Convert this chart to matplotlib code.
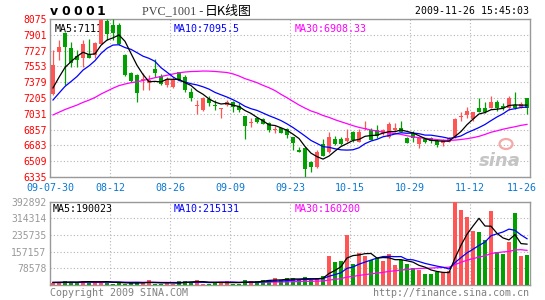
import numpy as np
import pandas as pd
import matplotlib
matplotlib.use("Agg")
import matplotlib.pyplot as plt
from matplotlib.patches import Ellipse

# PVC_1001 daily K, 80 sessions, 2009-07-30 .. 2009-11-26
opens = [7252, 7708, 7918, 7752, 7671, 7649, 7686, 7679, 7796, 8056,
         8009, 8009, 7679, 7477, 7458, 7400, 7367, 7521, 7447, 7348,
         7330, 7488, 7440, 7274, 7117, 7073, 7194, 7128, 7087, 7128,
         7158, 7120, 7010, 6933, 6988, 6974, 6926, 6849, 6871, 6864,
         6779, 6632, 6651, 6503, 6449, 6695, 6607, 6754, 6754, 6732,
         6834, 6724, 6860, 6853, 6853, 6816, 6779, 6849, 6871, 6768,
         6816, 6695, 6754, 6768, 6732, 6706, 6724, 6776, 6996, 7018,
         6974, 7092, 7100, 7098, 7158, 7117, 7098, 7128, 7106, 7208]
highs = [7734, 7844, 7935, 7825, 7734, 7844, 7851, 7825, 8075, 8075,
         8075, 8034, 7690, 7495, 7470, 7480, 7458, 7631, 7469, 7440,
         7436, 7495, 7458, 7312, 7183, 7219, 7230, 7183, 7100, 7183,
         7172, 7147, 7010, 6981, 7000, 6988, 6944, 6900, 6878, 6871,
         6779, 6669, 6660, 6510, 6632, 6754, 6834, 6790, 6779, 6864,
         6840, 6864, 6952, 6871, 6908, 6860, 6937, 6926, 6952, 6779,
         6841, 6768, 6768, 6779, 6754, 6754, 6779, 6980, 7054, 7109,
         7054, 7202, 7158, 7230, 7183, 7150, 7230, 7274, 7158, 7210]
lows = [7240, 7623, 7348, 7550, 7550, 7550, 7642, 7649, 7796, 7844,
        7844, 7789, 7450, 7385, 7158, 7290, 7293, 7440, 7348, 7323,
        7315, 7400, 7274, 7172, 7026, 7062, 7120, 7073, 6981, 7120,
        7054, 7054, 6754, 6889, 6926, 6919, 6834, 6816, 6816, 6768,
        6632, 6607, 6335, 6393, 6431, 6570, 6596, 6687, 6687, 6724,
        6724, 6717, 6849, 6743, 6768, 6798, 6768, 6834, 6827, 6713,
        6717, 6658, 6706, 6706, 6669, 6680, 6717, 6760, 6952, 6988,
        6952, 7050, 7040, 7092, 7062, 7073, 7073, 7084, 7092, 7026]
closes = [7569, 7767, 7770, 7587, 7624, 7796, 7642, 7807, 8060, 7910,
          7918, 7800, 7458, 7392, 7257, 7412, 7403, 7477, 7359, 7411,
          7403, 7403, 7293, 7202, 7125, 7208, 7147, 7117, 7098, 7158,
          7109, 7073, 6897, 6941, 6937, 6919, 6853, 6860, 6816, 6798,
          6706, 6613, 6423, 6448, 6607, 6570, 6779, 6699, 6699, 6768,
          6743, 6834, 6871, 6743, 6790, 6853, 6915, 6871, 6834, 6713,
          6768, 6761, 6717, 6735, 6688, 6743, 6768, 6974, 7007, 7062,
          7048, 7054, 7054, 7161, 7092, 7095, 7208, 7092, 7142, 7098]
vols = [9000, 14000, 18800, 14000, 9400, 18800, 18800, 14000, 14000, 14000,
        4700, 14000, 4700, 9400, 14000, 9400, 23500, 4700, 4700, 14000,
        4700, 18800, 18800, 14000, 23500, 4700, 4700, 14000, 14000, 18800,
        4700, 4700, 23500, 18800, 18800, 23500, 23500, 31500, 23500, 31500,
        31500, 23500, 37600, 23500, 31500, 42300, 136400, 108200, 112900, 235300,
        98800, 152000, 138000, 117600, 125400, 112900, 145900, 94100, 117600, 98800,
        81600, 70600, 51800, 51800, 62700, 59600, 65900, 392892, 352900, 321400,
        254100, 247800, 211700, 348200, 153700, 145900, 200700, 337200, 136400, 141100]

# 29 sessions before the window, only needed so the moving averages start right
pre_close = [6860, 6880, 6850, 6890, 6910, 6900, 6930, 6920, 6950, 6940,
             6960, 6930, 6950, 6970, 6960, 6980, 6990, 6970, 7000, 6980,
             7010, 7030, 7050, 7070, 7090, 7180, 7230, 7270, 7330]
pre_vol = [12000, 9400, 14000, 9400, 4700, 14000, 18800, 9400, 14000, 9400,
           4700, 14000, 9400, 18800, 9400, 14000, 4700, 9400, 14000, 9400,
           18800, 9400, 14000, 4700, 14000, 9400, 18800, 9400, 14000]

# values printed in the legends of the original
price_ma_text = ['MA5:7111', 'MA10:7095.5', 'MA30:6908.33']
vol_ma_text = ['MA5:190023', 'MA10:215131', 'MA30:160200']

price_ticks = [6335, 6509, 6683, 6857, 7031, 7205, 7379, 7553, 7727, 7901, 8075]
vol_ticks = [78578, 157157, 235735, 314314, 392892]
date_labels = ['09-07-30', '08-12', '08-26', '09-09', '09-23',
               '10-15', '10-29', '11-12', '11-26']

RED = '#ff5555'
GREEN = '#00a000'
GRID = '#b4b4b4'
W, H = 545, 300


def fx(x):
    return x / W


def fy(y):
    return 1 - y / H


n = len(closes)
xs = np.arange(n)
up = np.array(closes) >= np.array(opens)
cols = [RED if u else GREEN for u in up]

cs = pd.Series(pre_close + closes)
vs = pd.Series(pre_vol + vols)
ma = {k: cs.rolling(k).mean().iloc[len(pre_close):].values for k in (5, 10, 30)}
vma = {k: vs.rolling(k).mean().iloc[len(pre_vol):].values for k in (5, 10, 30)}
ma_cols = {5: 'black', 10: '#0000ff', 30: '#ff00ff'}

fig = plt.figure(figsize=(5.45, 3.0), dpi=100)
ax = fig.add_axes([fx(50), fy(177), fx(480), 158 / H])
axv = fig.add_axes([fx(50), fy(285), fx(480), 83.5 / H])

mono = 'DejaVu Sans Mono'
grid_x = [9.5 + 10 * k for k in range(7)]

for a in (ax, axv):
    a.set_xlim(-0.5, 79.5)
    a.set_xticks(grid_x)
    a.set_xticklabels([])
    a.grid(True, color=GRID, linestyle=(0, (1, 2)), linewidth=0.8)
    a.set_axisbelow(True)
    a.tick_params(length=0, pad=2.5, labelsize=7)
    for s in a.spines.values():
        s.set_color('#999999')
        s.set_linewidth(1)

# candles
ax.vlines(xs, lows, highs, colors=cols, linewidth=0.9, zorder=3)
body = np.maximum(np.abs(np.array(closes) - np.array(opens)), 9)
ax.bar(xs, body, bottom=np.minimum(opens, closes), width=0.78, color=cols,
       linewidth=0, zorder=3)
for k in (30, 10, 5):
    ax.plot(xs, ma[k], color=ma_cols[k], linewidth=0.9, zorder=4)
ax.set_ylim(6335, 8075)
ax.set_yticks(price_ticks)
ax.set_yticklabels([str(t) for t in price_ticks], color='#ff0000', family=mono)

for i, lab in enumerate(date_labels):
    x = -0.5 + 10 * i
    if i == len(date_labels) - 1:
        x = 78.1
    ax.text(x, -0.07, lab, transform=ax.get_xaxis_transform(), ha='center',
            va='center', fontsize=7.2, family=mono, color='#0a78d2')

# volume
axv.bar(xs, vols, width=0.78, color=cols, linewidth=0, zorder=3)
for k in (30, 10, 5):
    axv.plot(xs, vma[k], color=ma_cols[k], linewidth=0.9, zorder=4)
axv.set_ylim(0, 392892)
axv.set_yticks(vol_ticks)
axv.set_yticklabels([str(t) for t in vol_ticks], color='#999999', family=mono)

# MA legends, left edges at x = 55 / 174 / 295 px
for txt, xp, k in zip(price_ma_text, (55, 174, 295), (5, 10, 30)):
    ax.text((xp - 50) / 480, 0.968, txt, transform=ax.transAxes, ha='left',
            va='top', fontsize=7.2, family=mono, color=ma_cols[k], zorder=1)
for txt, xp, k in zip(vol_ma_text, (53, 174, 295), (5, 10, 30)):
    axv.text((xp - 50) / 480, 0.975, txt, transform=axv.transAxes, ha='left',
             va='top', fontsize=7.2, family=mono, color=ma_cols[k], zorder=1)

# header
for k, ch in enumerate('v0001'):
    fig.text(fx(50 + 11.7 * k), fy(11.5), ch, ha='left', va='center',
             fontsize=9, fontweight='bold', color='black')
fig.text(fx(142), fy(11), 'PVC_1001 -', ha='left', va='center', fontsize=8.7,
         family='Liberation Serif', color='#444444')
fig.text(fx(205), fy(11), '日K线图', ha='left', va='center', fontsize=9.3,
         family=['Noto Sans CJK SC', 'DejaVu Sans'], color='black')
fig.text(fx(529), fy(11.5), '2009-11-26 15:45:03', ha='right', va='center',
         fontsize=7.1, family=mono, color='black')

# footer
fig.text(fx(50), fy(293), 'Copyright 2009 SINA.COM', ha='left', va='center',
         fontsize=7.2, family=mono, color='#808080')
fig.text(fx(529), fy(293), 'http://finance.sina.com.cn', ha='right', va='center',
         fontsize=7.2, family=mono, color='#808080')

# watermark
fig.text(fx(500), fy(161), 'sina', ha='center', va='center', fontsize=13,
         fontweight='bold', style='italic', color='#c4c4c4', zorder=0)
fig.add_artist(Ellipse((fx(506), fy(144)), fx(13), 10 / H, fill=False,
                       edgecolor='#f5a8a8', linewidth=1.6))

fig.savefig('out.png', dpi=100)
